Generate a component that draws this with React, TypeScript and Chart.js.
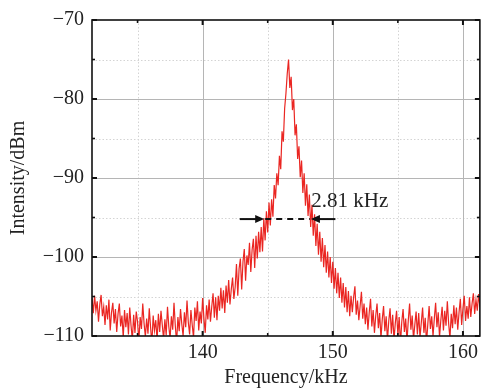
import { useEffect, useRef } from 'react';
import { Chart, registerables } from 'chart.js';

Chart.register(...registerables);

// Sampling grid of the spectrum (kHz)
const freqStart = 131.5;
const freqStep = 0.1;

const intensity: number[] = [
  -105.2, -107.1, -104.9, -106.8, -105.6, -108.2, -106.0, -104.8, -107.5, -106.3,
  -108.6, -106.1, -107.9, -105.4, -109.3, -107.0, -105.8, -108.4, -106.6, -109.5,
  -107.2, -105.9, -108.8, -107.4, -110.2, -106.7, -108.9, -107.1, -109.8, -106.4,
  -108.7, -110.5, -107.3, -109.6, -106.9, -108.2, -110.8, -107.6, -109.1, -105.9,
  -108.4, -110.1, -107.8, -109.7, -106.5, -108.9, -111.0, -107.4, -109.3, -108.0,
  -110.6, -107.2, -109.5, -106.8, -108.6, -110.4, -107.9, -109.9, -106.3, -108.8,
  -110.3, -107.5, -109.2, -105.8, -108.7, -110.9, -107.6, -109.4, -106.6, -108.5,
  -110.0, -107.0, -108.9, -105.5, -108.3, -109.8, -106.7, -108.6, -110.2, -106.4,
  -108.1, -105.6, -109.3, -106.9, -108.4, -105.2, -107.8, -109.6, -106.1, -107.9,
  -105.4, -108.2, -106.3, -104.6, -107.7, -105.1, -108.0, -104.9, -106.8, -103.9,
  -106.5, -104.2, -107.1, -103.6, -105.8, -102.9, -106.0, -104.1, -102.6, -105.3,
  -103.8, -100.9, -104.9, -101.5, -100.2, -104.1, -100.6, -99.0, -103.0, -99.8,
  -101.0, -98.2, -101.9, -99.1, -97.7, -101.4, -97.3, -100.2, -96.8, -99.4,
  -96.2, -99.3, -95.1, -97.9, -94.2, -96.9, -93.1, -96.0, -92.7, -94.9,
  -90.9, -92.6, -89.4, -90.9, -87.2, -88.9, -84.1, -85.4, -81.2, -79.3,
  -76.8, -75.0, -78.6, -77.2, -81.4, -80.0, -84.6, -83.2, -87.6, -86.0,
  -89.9, -87.8, -91.9, -89.4, -93.5, -90.8, -94.8, -92.1, -96.2, -93.4,
  -97.3, -94.6, -98.6, -95.8, -99.7, -96.8, -100.6, -97.6, -101.3, -98.5,
  -102.0, -99.3, -102.6, -100.0, -103.3, -100.6, -104.0, -101.4, -104.6, -102.0,
  -105.2, -102.6, -105.8, -103.3, -106.4, -103.8, -107.0, -104.3, -107.5, -104.9,
  -107.0, -105.1, -103.7, -107.3, -105.5, -108.0, -106.2, -104.4, -107.8, -105.9,
  -108.5, -106.4, -109.2, -107.0, -105.3, -108.8, -106.7, -109.6, -107.4, -105.9,
  -109.0, -107.1, -110.3, -107.9, -106.2, -109.4, -107.5, -110.6, -108.1, -106.5,
  -109.7, -107.3, -110.5, -108.4, -106.8, -109.9, -107.6, -111.0, -108.2, -106.6,
  -109.5, -107.8, -110.7, -108.0, -105.9, -109.2, -107.4, -110.4, -108.6, -106.9,
  -109.8, -107.1, -110.2, -108.3, -106.4, -109.6, -107.7, -110.9, -108.5, -106.2,
  -109.1, -107.5, -110.0, -107.8, -105.8, -108.9, -107.0, -110.1, -108.0, -106.3,
  -109.3, -106.8, -108.7, -105.6, -108.4, -110.3, -107.2, -109.0, -106.1, -108.5,
  -106.4, -109.2, -107.0, -105.3, -108.6, -106.5, -104.9, -108.1, -106.2, -107.8,
  -105.1, -107.6, -105.9, -104.6, -107.2, -105.4, -106.8, -104.7, -106.3,
];

// Axes
const xMin = 131.5;
const xMax = 161.3;
const xMajorTicks = [140, 150, 160];
const xMinorTicks = [135, 145, 155];
const yMin = -110;
const yMax = -70;
const yMajorTicks = [-110, -100, -90, -80, -70];
const yMinorTicks = [-105, -95, -85, -75];

// FWHM annotation
const fwhmText = '2.81 kHz';
const fwhmLevel = -95.2;
const fwhmInnerLeft = 144.73;
const fwhmInnerRight = 148.32;
const fwhmOuterLeft = 142.85;
const fwhmOuterRight = 150.2;
const fwhmTextX = 148.35;
const fwhmTextY = -93.7;

const FONT_FAMILY = '"Liberation Serif", "Times New Roman", Times, serif';
const TEXT_COLOR = '#222';

const framePlugin = {
  id: 'frame',
  beforeDatasetsDraw(chart: any) {
    const { ctx, chartArea, scales } = chart;
    const { left, right, top, bottom } = chartArea;
    const x = scales.x;
    const y = scales.y;
    ctx.save();
    ctx.lineWidth = 1;
    ctx.strokeStyle = '#d4d4d4';
    ctx.setLineDash([1.5, 2]);
    xMinorTicks.forEach((v) => {
      const px = Math.round(x.getPixelForValue(v)) + 0.5;
      ctx.beginPath(); ctx.moveTo(px, top); ctx.lineTo(px, bottom); ctx.stroke();
    });
    yMinorTicks.forEach((v) => {
      const py = Math.round(y.getPixelForValue(v)) + 0.5;
      ctx.beginPath(); ctx.moveTo(left, py); ctx.lineTo(right, py); ctx.stroke();
    });
    ctx.setLineDash([]);
    ctx.strokeStyle = '#b5b5b5';
    xMajorTicks.forEach((v) => {
      const px = Math.round(x.getPixelForValue(v)) + 0.5;
      ctx.beginPath(); ctx.moveTo(px, top); ctx.lineTo(px, bottom); ctx.stroke();
    });
    yMajorTicks.forEach((v) => {
      if (v === yMin || v === yMax) return;
      const py = Math.round(y.getPixelForValue(v)) + 0.5;
      ctx.beginPath(); ctx.moveTo(left, py); ctx.lineTo(right, py); ctx.stroke();
    });
    ctx.restore();
  },
  afterDatasetsDraw(chart: any) {
    const { ctx, chartArea, scales } = chart;
    const { left, right, top, bottom } = chartArea;
    const x = scales.x;
    const y = scales.y;
    ctx.save();
    ctx.strokeStyle = '#111';
    ctx.lineWidth = 1.6;
    ctx.strokeRect(left, top, right - left, bottom - top);
    const tick = (x1: number, y1: number, x2: number, y2: number, w: number) => {
      ctx.lineWidth = w;
      ctx.beginPath(); ctx.moveTo(x1, y1); ctx.lineTo(x2, y2); ctx.stroke();
    };
    xMajorTicks.forEach((v) => {
      const px = x.getPixelForValue(v);
      tick(px, bottom, px, bottom - 5, 2);
      tick(px, top, px, top + 5, 2);
    });
    xMinorTicks.forEach((v) => {
      const px = x.getPixelForValue(v);
      tick(px, bottom, px, bottom - 3, 1.6);
      tick(px, top, px, top + 3, 1.6);
    });
    yMajorTicks.forEach((v) => {
      const py = y.getPixelForValue(v);
      tick(left, py, left + 5, py, 2);
      tick(right, py, right - 5, py, 2);
    });
    yMinorTicks.forEach((v) => {
      const py = y.getPixelForValue(v);
      tick(left, py, left + 3, py, 1.6);
      tick(right, py, right - 3, py, 1.6);
    });

    const py = y.getPixelForValue(fwhmLevel);
    const a = x.getPixelForValue(fwhmOuterLeft);
    const b = x.getPixelForValue(fwhmInnerLeft);
    const c = x.getPixelForValue(fwhmInnerRight);
    const d = x.getPixelForValue(fwhmOuterRight);
    ctx.strokeStyle = '#111';
    ctx.fillStyle = '#111';
    ctx.lineWidth = 2;
    ctx.beginPath(); ctx.moveTo(a, py); ctx.lineTo(b - 6, py); ctx.stroke();
    ctx.beginPath(); ctx.moveTo(d, py); ctx.lineTo(c + 6, py); ctx.stroke();
    ctx.beginPath();
    ctx.moveTo(b, py); ctx.lineTo(b - 9, py - 4); ctx.lineTo(b - 9, py + 4); ctx.closePath(); ctx.fill();
    ctx.beginPath();
    ctx.moveTo(c, py); ctx.lineTo(c + 9, py - 4); ctx.lineTo(c + 9, py + 4); ctx.closePath(); ctx.fill();
    ctx.setLineDash([6, 5]);
    ctx.beginPath(); ctx.moveTo(b + 1, py); ctx.lineTo(c - 1, py); ctx.stroke();
    ctx.setLineDash([]);
    ctx.fillStyle = TEXT_COLOR;
    ctx.font = `21px ${FONT_FAMILY}`;
    ctx.textAlign = 'left';
    ctx.textBaseline = 'alphabetic';
    ctx.fillText(fwhmText, x.getPixelForValue(fwhmTextX), y.getPixelForValue(fwhmTextY));
    ctx.restore();
  },
};

const fmt = (v: number) => (v < 0 ? '\u2212' + Math.abs(v) : String(v));

export default function App() {
  const ref = useRef<HTMLCanvasElement>(null);
  useEffect(() => {
    if (!ref.current) return;
    const points = intensity.map((v, i) => ({ x: Number((freqStart + i * freqStep).toFixed(2)), y: v }));
    const font = { family: FONT_FAMILY, size: 20 };
    const chart = new Chart(ref.current, {
      type: 'line',
      data: {
        datasets: [
          {
            data: points,
            borderColor: 'rgb(234,38,34)',
            borderWidth: 1.2,
            pointRadius: 0,
            tension: 0,
            fill: false,
          },
        ],
      },
      options: {
        responsive: false,
        animation: false,
        devicePixelRatio: 1,
        layout: { padding: { top: 18, right: 1, left: 0, bottom: 0 } },
        plugins: { legend: { display: false }, tooltip: { enabled: false } },
        scales: {
          x: {
            type: 'linear',
            min: xMin,
            max: xMax,
            afterBuildTicks: (s: any) => {
              s.ticks = xMajorTicks.map((v) => ({ value: v }));
            },
            afterFit: (s: any) => {
              s.height = 54;
            },
            grid: { display: false, drawTicks: false },
            border: { display: false },
            ticks: { padding: 5, font, color: TEXT_COLOR, maxRotation: 0, autoSkip: false },
            title: { display: true, text: 'Frequency/kHz', font, color: TEXT_COLOR, padding: { top: 0, bottom: 0 } },
          },
          y: {
            type: 'linear',
            min: yMin,
            max: yMax,
            afterBuildTicks: (s: any) => {
              s.ticks = yMajorTicks.map((v) => ({ value: v }));
            },
            afterFit: (s: any) => {
              s.width = 92;
            },
            grid: { display: false, drawTicks: false },
            border: { display: false },
            ticks: { padding: 8, font, color: TEXT_COLOR, callback: (v: any) => fmt(Number(v)) },
            title: { display: true, text: 'Intensity/dBm', font, color: TEXT_COLOR, padding: { top: 7, bottom: 0 } },
          },
        },
      },
      plugins: [framePlugin],
    } as any);
    return () => chart.destroy();
  }, []);
  return (
    <div style={{ position: 'absolute', left: 0, top: 0, width: 483, height: 390, background: '#fff' }}>
      <canvas ref={ref} width={483} height={390} style={{ display: 'block' }} />
    </div>
  );
}
